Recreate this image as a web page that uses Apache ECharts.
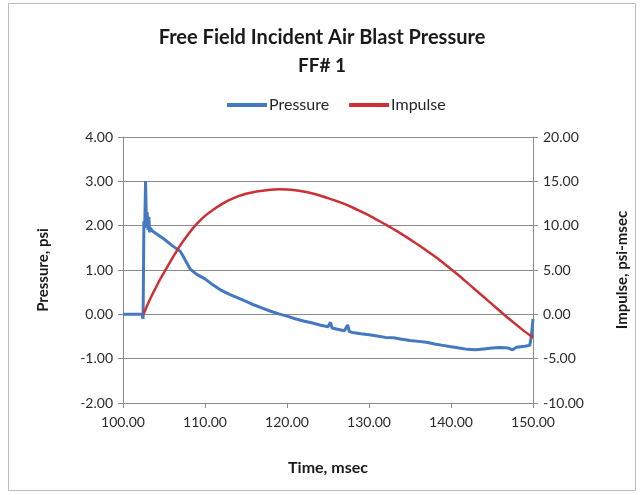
<!DOCTYPE html>
<html>
<head>
<meta charset="utf-8">
<script src="https://cdn.jsdelivr.net/npm/echarts@6/dist/echarts.min.js"></script>
<style>html,body{margin:0;padding:0;background:#fff;}#c{width:644px;height:495px;}</style>
</head>
<body>
<div id="c"></div>
<script>
const pressureTime = [100,102.3,102.45,102.55,102.65,102.75,102.85,102.95,103.05,103.15,103.25,103.35,103.5,103.8,104.2,105,106,107,107.6,108.2,109,110,111,112,113,114,115,116,117,118,119,120,121,122,123,124,125,125.3,125.5,126,127,127.4,127.6,128,129,130,131,132,133,134,135,136,137,138,139,140,141,142,143,144,145,146,147,147.5,148,149,149.6,149.8,150];
const pressureVals = [0,0,-0.1,2.1,1.95,3.0,2.1,2.3,1.9,2.2,1.85,1.95,1.9,1.85,1.8,1.7,1.55,1.42,1.22,1.02,0.9,0.8,0.66,0.54,0.45,0.37,0.29,0.21,0.14,0.07,0.01,-0.04,-0.1,-0.15,-0.19,-0.24,-0.28,-0.18,-0.31,-0.33,-0.37,-0.24,-0.39,-0.41,-0.44,-0.46,-0.49,-0.52,-0.53,-0.56,-0.59,-0.61,-0.63,-0.67,-0.7,-0.73,-0.76,-0.79,-0.8,-0.78,-0.76,-0.75,-0.76,-0.8,-0.74,-0.72,-0.7,-0.5,-0.1];
const impulseTime = [102.5,103,103.5,104,104.5,105,106,107,108,109,110,111,112,113,114,115,116,117,118,119,120,121,122,123,124,125,126,127,128,129,130,131,132,133,134,135,136,137,138,139,140,141,142,143,144,145,146,147,148,149,150];
const impulseVals = [0,1.1,2.1,3.0,3.9,4.7,6.3,7.8,9.1,10.2,11.1,11.8,12.4,12.9,13.3,13.6,13.8,13.95,14.05,14.1,14.08,14.0,13.85,13.65,13.4,13.1,12.8,12.45,12.05,11.6,11.15,10.65,10.15,9.6,9.05,8.45,7.85,7.2,6.55,5.85,5.1,4.35,3.55,2.75,1.95,1.15,0.35,-0.45,-1.2,-1.95,-2.6];
const xTicks = [100,110,120,130,140,150];

const FONT = 'Lato';
const chart = echarts.init(document.getElementById('c'));
chart.setOption({
  animation:false,
  textStyle:{fontFamily:FONT},
  graphic:[{type:'rect',shape:{x:8.5,y:3.5,width:627,height:487},style:{fill:'none',stroke:'#bdbdbd',lineWidth:1}}],
  title:[
    {text:'Free Field Incident Air Blast Pressure',left:'center',top:23,textStyle:{fontFamily:FONT,fontSize:20,fontWeight:'bold',color:'#1a1a1a'}},
    {text:'FF# 1',left:'center',top:51,textStyle:{fontFamily:FONT,fontSize:19,fontWeight:'bold',color:'#1a1a1a'}}
  ],
  legend:{top:92,left:222,itemWidth:40,itemHeight:4,itemGap:20,icon:'rect',
    textStyle:{fontFamily:FONT,fontSize:16,color:'#262626',padding:[0,0,0,-3]},
    data:['Pressure','Impulse']},
  grid:{left:123,right:111,top:137,bottom:92},
  xAxis:{type:'value',min:100,max:150,interval:10,
    name:'Time, msec',nameLocation:'middle',nameGap:57,
    nameTextStyle:{fontFamily:FONT,fontSize:16,fontWeight:'bold',color:'#1a1a1a'},
    axisLine:{onZero:false,lineStyle:{color:'#8c8c8c'}},
    axisTick:{show:true,length:5,lineStyle:{color:'#8c8c8c'}},
    axisLabel:{fontFamily:FONT,fontSize:14,color:'#2b2b2b',margin:12,formatter:v=>v.toFixed(2),customValues:xTicks},
    splitLine:{show:false}},
  yAxis:[
    {type:'value',min:-2,max:4,interval:1,position:'left',
      name:'Pressure, psi',nameLocation:'middle',nameGap:72,
      nameTextStyle:{fontFamily:FONT,fontSize:15,fontWeight:'bold',color:'#1a1a1a'},
      axisLine:{show:true,lineStyle:{color:'#8c8c8c'}},
      axisTick:{show:true,length:5,lineStyle:{color:'#8c8c8c'}},
      axisLabel:{fontFamily:FONT,fontSize:14,color:'#2b2b2b',margin:10,formatter:v=>v.toFixed(2)},
      splitLine:{show:true,lineStyle:{color:'#8c8c8c',width:1}}},
    {type:'value',min:-10,max:20,interval:5,position:'right',
      name:'Impulse, psi-msec',nameLocation:'middle',nameGap:82,nameRotate:90,
      nameTextStyle:{fontFamily:FONT,fontSize:15,fontWeight:'bold',color:'#1a1a1a'},
      axisLine:{show:true,lineStyle:{color:'#8c8c8c'}},
      axisTick:{show:true,length:5,lineStyle:{color:'#8c8c8c'}},
      axisLabel:{fontFamily:FONT,fontSize:14,color:'#2b2b2b',margin:10,formatter:v=>v.toFixed(2)},
      splitLine:{show:false}}
  ],
  series:[
    {name:'Pressure',type:'line',yAxisIndex:0,showSymbol:false,symbol:'none',
      lineStyle:{color:'#4478c0',width:3},itemStyle:{color:'#4478c0'},
      data:pressureTime.map((t,i)=>[t,pressureVals[i]])},
    {name:'Impulse',type:'line',yAxisIndex:1,showSymbol:false,symbol:'none',smooth:0.2,
      lineStyle:{color:'#cc3035',width:2.5},itemStyle:{color:'#cc3035'},
      data:impulseTime.map((t,i)=>[t,impulseVals[i]])}
  ]
});
</script>
</body>
</html>
